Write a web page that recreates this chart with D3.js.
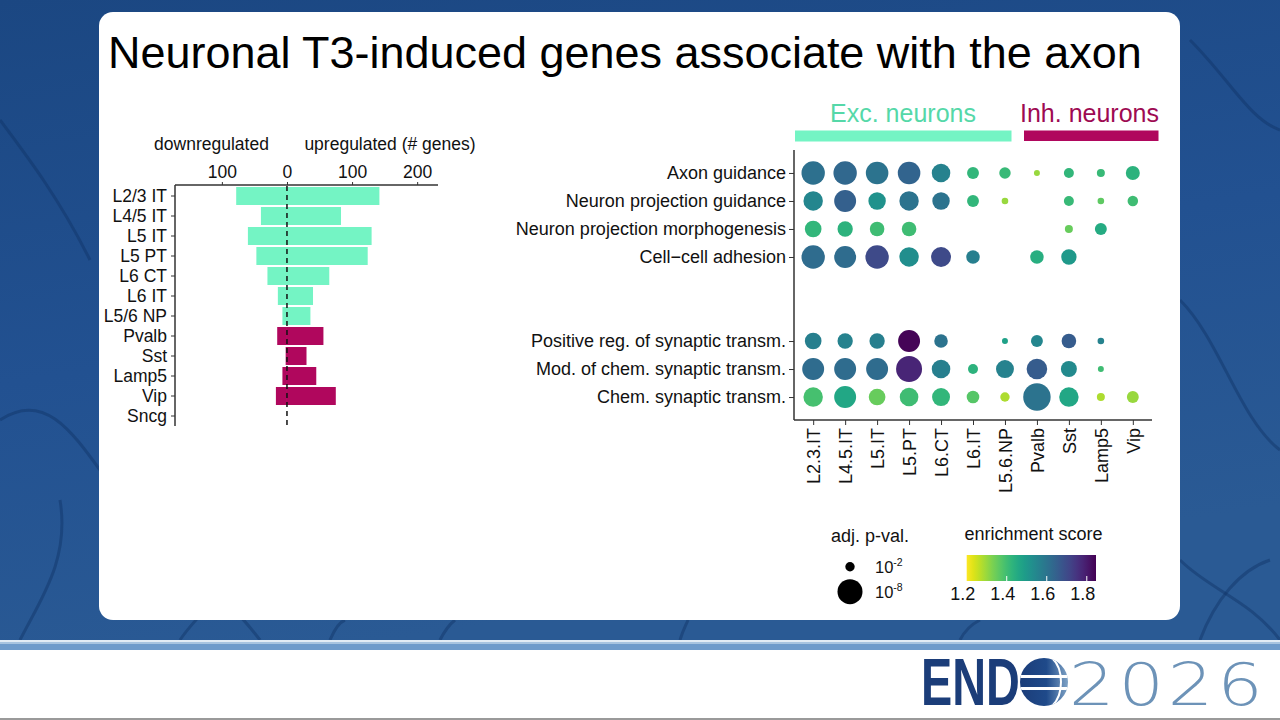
<!DOCTYPE html>
<html>
<head>
<meta charset="utf-8">
<script src="https://cdn.jsdelivr.net/npm/d3@7"></script>
<style>
  html, body { margin: 0; padding: 0; background: #fff; }
  svg { display: block; font-family: "Liberation Sans", Arial, sans-serif; }
</style>
</head>
<body>
<svg id="chart" width="1280" height="720"></svg>
<script>
// ---------------- DATA ----------------
const titleText = "Neuronal T3-induced genes associate with the axon";

// Left panel: number of DE genes per cell type
const barCats = ["L2/3 IT","L4/5 IT","L5 IT","L5 PT","L6 CT","L6 IT","L5/6 NP","Pvalb","Sst","Lamp5","Vip","Sncg"];
const barGroups = ["exc","exc","exc","exc","exc","exc","exc","inh","inh","inh","inh","inh"];
const downCounts = [78, 40, 60, 47, 30, 14, 7, 15, 2, 7, 17, 0];
const upCounts   = [142, 83, 130, 124, 65, 40, 36, 56, 30, 45, 75, 0];
const barTicks = [-100, 0, 100, 200];

// Right panel: GO enrichment dot plot
const cellTypes = ["L2.3.IT","L4.5.IT","L5.IT","L5.PT","L6.CT","L6.IT","L5.6.NP","Pvalb","Sst","Lamp5","Vip"];
const termsTop = ["Axon guidance","Neuron projection guidance","Neuron projection morphogenesis","Cell\u2212cell adhesion"];
const termsBottom = ["Positive reg. of synaptic transm.","Mod. of chem. synaptic transm.","Chem. synaptic transm."];
const gapSlots = ["gap1","gap2"];
// -log10(adjusted p-value); null = not significant
const negLog10P = [
  [7.2, 7.2, 6.8, 6.8, 5.05, 2.7, 2.55, 1.22, 2.16, 1.66, 3.35],
  [5.4, 6.5, 4.6, 5.4, 4.6, 2.7, 1.35, null, 2.16, 1.35, 2.3],
  [4.3, 3.8, 3.55, 3.55, null, null, null, null, 1.66, 2.7, null],
  [7.2, 6.5, 7.2, 5.4, 5.6, 3.2, null, 3.2, 3.8, null, null],
  [4.3, 3.8, 3.8, 6.5, 3.2, null, 1.22, 2.7, 3.55, 1.35, null],
  [6.5, 6.5, 6.5, 8.5, 5.05, 2.16, 4.8, 5.9, 4.05, 1.22, null],
  [5.4, 6.5, 4.3, 5.05, 4.8, 2.9, 2.0, 9.3, 5.4, 1.66, 2.7]
];
const enrichment = [
  [1.61, 1.63, 1.60, 1.64, 1.56, 1.42, 1.41, 1.30, 1.42, 1.41, 1.43],
  [1.55, 1.65, 1.52, 1.60, 1.60, 1.42, 1.30, null, 1.41, 1.36, 1.40],
  [1.42, 1.43, 1.40, 1.40, null, null, null, null, 1.35, 1.45, null],
  [1.62, 1.62, 1.70, 1.53, 1.70, 1.57, null, 1.44, 1.50, null, null],
  [1.57, 1.56, 1.57, 1.84, 1.60, null, 1.48, 1.55, 1.66, 1.56, null],
  [1.62, 1.62, 1.62, 1.78, 1.57, 1.43, 1.56, 1.66, 1.54, 1.40, null],
  [1.39, 1.46, 1.35, 1.40, 1.42, 1.37, 1.28, 1.60, 1.46, 1.28, 1.30]
];
const sizeLegendVals = [2, 8];          // -log10 p: 10^-2, 10^-8
const colorTicks = [1.2, 1.4, 1.6, 1.8];
const colorDomain = [1.2, 1.846];

// ---------------- STYLE ----------------
const EXC = "#74f4c4", INH = "#b0075d";
const EXC_TXT = "#55d8a8", INH_TXT = "#9e0a52";
const FS_L = 17.5, FS_R = 18;

const svg = d3.select("#chart");

// ---------------- SLIDE BACKGROUND ----------------
const defs = svg.append("defs");
const bg = defs.append("linearGradient").attr("id","bgGrad").attr("x1",0).attr("y1",0).attr("x2",0.3).attr("y2",1);
bg.append("stop").attr("offset","0%").attr("stop-color","#1b4782");
bg.append("stop").attr("offset","55%").attr("stop-color","#225191");
bg.append("stop").attr("offset","100%").attr("stop-color","#2a5a94");
svg.append("rect").attr("x",0).attr("y",0).attr("width",1280).attr("height",641).attr("fill","url(#bgGrad)");
// faint neuron-like fibres (decoration)
const fibres = [
  "M0,420 C60,380 90,470 140,520 S230,600 260,640",
  "M20,640 C40,600 70,560 60,500",
  "M180,640 C200,610 230,590 250,560",
  "M1180,300 C1220,340 1240,420 1280,450",
  "M1180,560 C1210,590 1250,600 1280,640",
  "M1200,640 C1215,600 1240,570 1270,560",
  "M330,640 C335,628 340,622 345,620",
  "M440,640 C445,630 450,624 455,620",
  "M680,640 C683,630 686,625 688,620",
  "M960,640 C965,630 972,624 980,620",
  "M0,120 C30,160 60,200 90,260",
  "M1190,40 C1230,80 1250,120 1280,130"
];
svg.append("g").selectAll("path").data(fibres).join("path")
  .attr("d", d => d).attr("fill","none").attr("stroke","#0f3466").attr("stroke-opacity",0.45).attr("stroke-width",3);

// bottom stripes and footer
svg.append("rect").attr("x",0).attr("y",640).attr("width",1280).attr("height",2).attr("fill","#e3ecf5");
svg.append("rect").attr("x",0).attr("y",642).attr("width",1280).attr("height",2).attr("fill","#a8c4e0");
svg.append("rect").attr("x",0).attr("y",644).attr("width",1280).attr("height",6).attr("fill","#6f9bcb");
svg.append("rect").attr("x",0).attr("y",650).attr("width",1280).attr("height",68).attr("fill","#ffffff");
svg.append("rect").attr("x",0).attr("y",718).attr("width",1280).attr("height",2).attr("fill","#9a9a9a");

// ENDO2026 logo
svg.append("text").attr("transform","translate(921,705) scale(0.71,1)")
  .attr("font-family","'Liberation Sans', Arial, sans-serif")
  .attr("font-weight","bold").attr("font-size",66).attr("fill","#1b3d79").text("END");
const globe = defs.append("linearGradient").attr("id","globeGrad").attr("x1",0).attr("y1",0).attr("x2",1).attr("y2",0);
globe.append("stop").attr("offset","0%").attr("stop-color","#1b3d79");
globe.append("stop").attr("offset","55%").attr("stop-color","#1f4a8a");
globe.append("stop").attr("offset","100%").attr("stop-color","#7fa3c6");
defs.append("clipPath").attr("id","globeClip").append("circle").attr("cx",1044).attr("cy",682).attr("r",24);
const gl = svg.append("g");
gl.append("circle").attr("cx",1044).attr("cy",682).attr("r",24).attr("fill","url(#globeGrad)");
const glc = gl.append("g").attr("clip-path","url(#globeClip)");
glc.append("rect").attr("x",1018).attr("y",675).attr("width",54).attr("height",3).attr("fill","#fff");
glc.append("rect").attr("x",1018).attr("y",687).attr("width",54).attr("height",3).attr("fill","#fff");
glc.append("path").attr("d","M1052,658 C1064,669 1064,695 1052,706").attr("fill","none").attr("stroke","#fff").attr("stroke-width",2);
svg.append("text").attr("transform","translate(1069,705) scale(1.3,1.08)")
  .attr("font-family","'DejaVu Sans', 'Liberation Sans', sans-serif").attr("font-weight",200)
  .attr("font-size",55).attr("letter-spacing",3).attr("fill","#6d93b8").text("2026");

// white panel
svg.append("rect").attr("x",99).attr("y",12).attr("width",1081).attr("height",608).attr("rx",14).attr("fill","#ffffff");

// title
const title = svg.append("text").attr("x",108).attr("y",68).attr("font-size",45).attr("fill","#000").text(titleText);
const tw = title.node().getComputedTextLength();
title.attr("font-size", 45 * 1034 / tw);

// ---------------- LEFT: diverging bar chart ----------------
const bx = d3.scaleLinear().domain([-172, 232]).range([175, 438]);
const by = d3.scaleBand().domain(barCats).range([186, 426]).paddingInner(0.1).paddingOuter(0.05);
const left = svg.append("g");

left.selectAll("rect.down").data(barCats).join("rect").attr("class","down")
  .attr("x", (d,i) => bx(-downCounts[i])).attr("width", (d,i) => bx(0) - bx(-downCounts[i]))
  .attr("y", d => by(d)).attr("height", by.bandwidth())
  .attr("fill", (d,i) => barGroups[i] === "exc" ? EXC : INH);
left.selectAll("rect.up").data(barCats).join("rect").attr("class","up")
  .attr("x", bx(0)).attr("width", (d,i) => bx(upCounts[i]) - bx(0))
  .attr("y", d => by(d)).attr("height", by.bandwidth())
  .attr("fill", (d,i) => barGroups[i] === "exc" ? EXC : INH);

// zero dashed line
left.append("line").attr("x1",bx(0)).attr("x2",bx(0)).attr("y1",186).attr("y2",426)
  .attr("stroke","#111").attr("stroke-width",1.5).attr("stroke-dasharray","5,4");

// top axis
const topAxis = d3.axisTop(bx).tickValues(barTicks).tickFormat(d => Math.abs(d)).tickSize(3).tickPadding(4);
const gTop = left.append("g").attr("transform","translate(0,185)").call(topAxis);
gTop.select(".domain").attr("d", `M${bx.range()[0]},0H${bx.range()[1]}`).attr("stroke","#333").attr("stroke-width",1.5);
gTop.selectAll(".tick line").attr("stroke","#333");
gTop.selectAll(".tick text").attr("font-size",FS_L).attr("font-family","Liberation Sans, Arial, sans-serif").attr("fill","#111");

// left axis
const leftAxis = d3.axisLeft(by).tickSize(4).tickPadding(4);
const gLeft = left.append("g").attr("transform",`translate(175,0)`).call(leftAxis);
gLeft.select(".domain").attr("d","M0,185V426").attr("stroke","#333").attr("stroke-width",1.5);
gLeft.selectAll(".tick line").attr("stroke","#333");
gLeft.selectAll(".tick text").attr("font-size",FS_L).attr("font-family","Liberation Sans, Arial, sans-serif").attr("fill","#111");

left.append("text").attr("x",211.5).attr("y",150).attr("text-anchor","middle").attr("font-size",FS_L).attr("fill","#111").text("downregulated");
left.append("text").attr("x",390).attr("y",150).attr("text-anchor","middle").attr("font-size",FS_L).attr("fill","#111").text("upregulated (# genes)");

// ---------------- RIGHT: dot plot ----------------
const dx = d3.scalePoint().domain(cellTypes).range([794, 1152]).padding(0.6);
const yDomain = [...termsTop, ...gapSlots, ...termsBottom];
const dy = d3.scalePoint().domain(yDomain).range([150, 420]).padding(0.82);
const allTerms = [...termsTop, ...termsBottom];
const rScale = d3.scaleSqrt().domain(sizeLegendVals).range([4.7, 12.5]);
const color = d3.scaleSequential(t => d3.interpolateViridis(1 - t)).domain(colorDomain);

const right = svg.append("g");
const gY = right.append("g").attr("transform","translate(794,0)").call(d3.axisLeft(dy).tickValues(allTerms).tickSize(5).tickPadding(3));
gY.select(".domain").attr("d","M0,150V420").attr("stroke","#333").attr("stroke-width",1.5);
gY.selectAll(".tick line").attr("stroke","#333");
gY.selectAll(".tick text").attr("font-size",FS_R).attr("font-family","Liberation Sans, Arial, sans-serif").attr("fill","#111");

const gX = right.append("g").attr("transform","translate(0,420)").call(d3.axisBottom(dx).tickSize(5).tickPadding(4));
gX.select(".domain").attr("d","M794,0H1152").attr("stroke","#333").attr("stroke-width",1.5);
gX.selectAll(".tick line").attr("stroke","#333");
gX.selectAll(".tick text").attr("font-size",FS_R).attr("font-family","Liberation Sans, Arial, sans-serif").attr("fill","#111")
  .attr("transform","rotate(-90)").attr("text-anchor","end").attr("x",-8).attr("y",0).attr("dy","0.35em");

const dots = [];
allTerms.forEach((t, i) => cellTypes.forEach((c, j) => {
  if (negLog10P[i][j] != null) dots.push({term: t, cell: c, p: negLog10P[i][j], e: enrichment[i][j]});
}));
right.append("g").selectAll("circle").data(dots).join("circle")
  .attr("cx", d => dx(d.cell)).attr("cy", d => dy(d.term))
  .attr("r", d => rScale(d.p)).attr("fill", d => color(d.e));

// group headers
right.append("rect").attr("x",795).attr("y",130.5).attr("width",1011.5-795).attr("height",11).attr("fill",EXC);
right.append("rect").attr("x",1024).attr("y",130.5).attr("width",1158.5-1024).attr("height",10.5).attr("fill",INH);
right.append("text").attr("x",903).attr("y",121.5).attr("text-anchor","middle").attr("font-size",25).attr("fill",EXC_TXT).text("Exc. neurons");
right.append("text").attr("x",1089.5).attr("y",121.5).attr("text-anchor","middle").attr("font-size",25).attr("fill",INH_TXT).text("Inh. neurons");

// size legend
const lg = svg.append("g");
lg.append("text").attr("x",870).attr("y",542).attr("text-anchor","middle").attr("font-size",FS_R).attr("fill","#111").text("adj. p-val.");
const sizeLegY = [566.7, 591.7];
sizeLegendVals.forEach((v, i) => {
  lg.append("circle").attr("cx",850).attr("cy",sizeLegY[i]).attr("r",rScale(v)).attr("fill","#000");
  const t = lg.append("text").attr("x",875).attr("y",sizeLegY[i] + 6).attr("font-size",16.5).attr("fill","#111");
  t.append("tspan").text("10");
  t.append("tspan").attr("dy",-7).attr("font-size",10.5).text("-" + v);
});

// colour legend
lg.append("text").attr("x",964.5).attr("y",540).attr("font-size",FS_R).attr("fill","#111").text("enrichment score");
const cbx = d3.scaleLinear().domain(colorDomain).range([966.7, 1096]);
const cg = defs.append("linearGradient").attr("id","cbGrad").attr("x1",0).attr("x2",1).attr("y1",0).attr("y2",0);
d3.range(0, 1.0001, 0.05).forEach(t => {
  cg.append("stop").attr("offset", (t*100) + "%").attr("stop-color", color(colorDomain[0] + t*(colorDomain[1]-colorDomain[0])));
});
lg.append("rect").attr("x",cbx(colorDomain[0])).attr("y",555).attr("width",cbx(colorDomain[1]) - cbx(colorDomain[0])).attr("height",26).attr("fill","url(#cbGrad)");
lg.selectAll("line.cbt").data(colorTicks.filter(d => d > colorDomain[0])).join("line").attr("class","cbt")
  .attr("x1", d => cbx(d)).attr("x2", d => cbx(d)).attr("y1",576).attr("y2",581).attr("stroke","#fff").attr("stroke-width",1);
lg.selectAll("text.cbl").data(colorTicks).join("text").attr("class","cbl")
  .attr("x", d => cbx(d) - 4).attr("y",600).attr("text-anchor","middle").attr("font-size",FS_R).attr("fill","#111")
  .text(d => d.toFixed(1));
</script>
</body>
</html>
